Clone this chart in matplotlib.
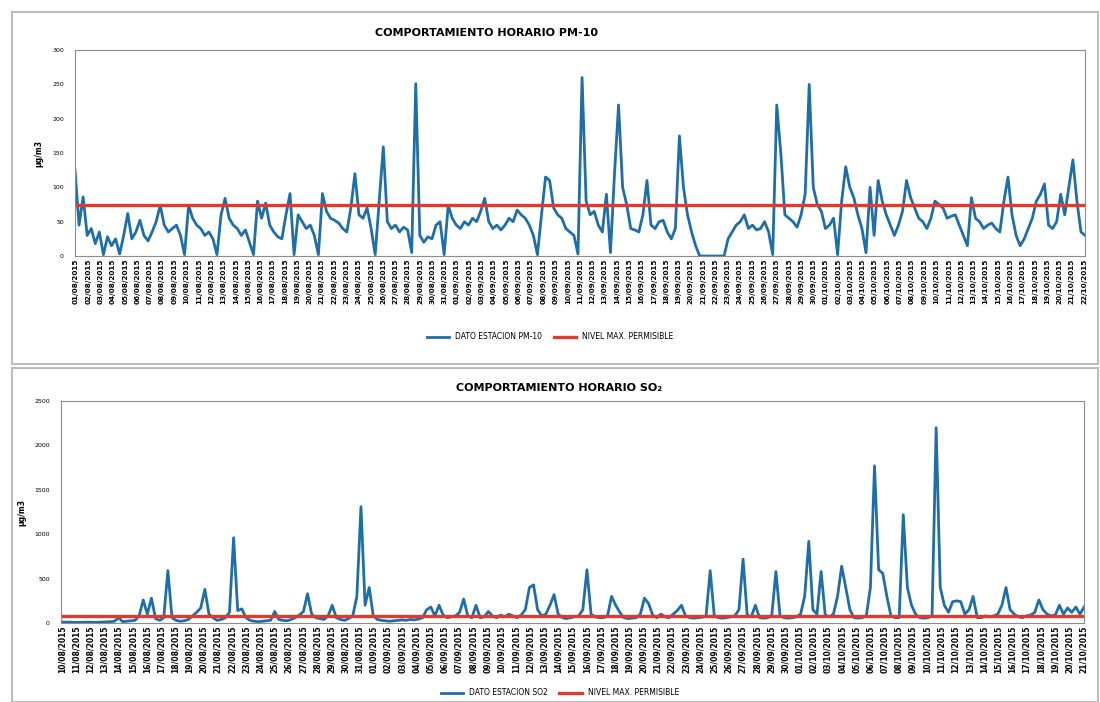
import numpy as np
import pandas as pd
import matplotlib
matplotlib.use("Agg")
import matplotlib.pyplot as plt
from matplotlib.patches import Rectangle

# PM-10 hourly values (ug/m3) left to right
pm10 = [125, 45, 86, 30, 40, 18, 35, 2, 28, 15,
        25, 3, 30, 62, 25, 35, 52, 30, 22, 35,
        50, 74, 45, 35, 40, 45, 30, 2, 74, 55,
        45, 40, 30, 35, 25, 2, 60, 84, 55, 45,
        40, 30, 38, 20, 2, 80, 55, 77, 45, 35,
        28, 25, 60, 91, 2, 60, 50, 40, 45, 30,
        2, 91, 65, 55, 52, 48, 40, 35, 70, 120,
        60, 55, 70, 40, 2, 80, 159, 50, 40, 45,
        35, 42, 38, 5, 251, 30, 20, 28, 25, 45,
        50, 2, 74, 55, 45, 40, 50, 45, 55, 50,
        65, 84, 50, 40, 45, 38, 45, 55, 50, 67,
        60, 55, 45, 30, 2, 60, 115, 110, 70, 60,
        55, 40, 35, 30, 3, 260, 80, 60, 65, 45,
        35, 90, 5, 120, 220, 100, 75, 40, 38, 35,
        60, 110, 45, 40, 50, 52, 35, 25, 40, 175,
        100, 60, 35, 15, 0, 0, 0, 0, 0, 0,
        0, 25, 35, 45, 50, 60, 40, 45, 38, 40,
        50, 35, 2, 220, 150, 60, 55, 50, 42, 60,
        90, 250, 100, 75, 65, 40, 45, 55, 2, 80,
        130, 100, 85, 60, 40, 5, 100, 30, 110, 80,
        60, 45, 30, 45, 65, 110, 85, 70, 55, 50,
        40, 55, 80, 75, 70, 55, 58, 60, 45, 30,
        15, 85, 55, 50, 40, 45, 48, 40, 35, 80,
        115, 60, 30, 15, 25, 40, 55, 80, 90, 105,
        45, 40, 50, 90, 60, 100, 140, 80, 35, 30]

# SO2 hourly values (ug/m3)
so2 = [10, 10, 10, 8, 8, 8, 10, 10, 8, 8,
       10, 12, 15, 20, 60, 15, 20, 25, 30, 80,
       260, 100, 280, 50, 30, 60, 590, 60, 30, 20,
       25, 40, 80, 120, 170, 380, 100, 60, 30, 40,
       60, 120, 960, 140, 160, 60, 30, 20, 15, 20,
       25, 30, 130, 40, 30, 25, 40, 60, 90, 130,
       330, 100, 60, 50, 40, 80, 200, 60, 40, 30,
       50, 80, 300, 1310, 200, 400, 80, 40, 30, 25,
       20, 25, 30, 35, 30, 40, 35, 45, 60, 150,
       180, 80, 200, 90, 60, 70, 80, 120, 270, 80,
       60, 200, 60, 70, 130, 80, 60, 90, 70, 100,
       80, 60, 90, 150, 400, 430, 150, 80, 100, 200,
       320, 100, 60, 50, 60, 70, 80, 150, 600, 100,
       70, 60, 60, 80, 300, 200, 120, 60, 50, 55,
       60, 100, 280, 220, 90, 60, 100, 70, 60, 100,
       140, 200, 80, 60, 55, 60, 65, 80, 590, 80,
       60, 55, 60, 70, 80, 150, 720, 90, 70, 200,
       60, 55, 60, 90, 580, 80, 60, 55, 60, 70,
       100, 300, 920, 150, 100, 580, 90, 70, 100, 300,
       640, 400, 150, 60, 55, 60, 80, 400, 1770, 600,
       560, 300, 80, 60, 60, 1220, 400, 200, 100, 60,
       55, 60, 80, 2200, 400, 200, 120, 240, 250, 240,
       100, 150, 300, 60, 60, 80, 70, 80, 100, 200,
       400, 150, 100, 70, 60, 80, 90, 120, 260, 150,
       100, 80, 90, 200, 100, 170, 120, 180, 100, 180]

pm10_limit = 75
so2_limit = 80

pm10_days = pd.date_range("2015-08-01", periods=83).strftime("%d/%m/%Y").tolist()
so2_days = pd.date_range("2015-08-10", periods=73).strftime("%d/%m/%Y").tolist()

BLUE = "#1f6ea8"
RED = "#e0392e"

fig = plt.figure(figsize=(11, 7.02), dpi=100)

# panel frames
for y0, h in [(0.4815, 0.5015), (0.0, 0.4758)]:
    fig.add_artist(Rectangle((0.011, y0), 0.987, h, transform=fig.transFigure,
                             fill=False, edgecolor="#bdbdbd", lw=1.5))


def draw_panel(rect, values, limit, labels, ymax, ystep, xpad, xfs):
    ax = fig.add_axes(rect)
    n = len(labels)
    x0, x1 = -xpad, n - 1 + xpad
    x = np.linspace(x0, x1, len(values))
    l1, = ax.plot(x, values, color=BLUE, lw=2.0)
    l2, = ax.plot([x0, x1], [limit, limit], color=RED, lw=2.4)
    ax.set_xlim(x0, x1)
    ax.set_ylim(0, ymax)
    ax.set_yticks(np.arange(0, ymax + 1, ystep))
    ax.set_xticks(range(n))
    ax.set_xticklabels(labels, rotation=90, fontsize=xfs, fontweight="bold")
    ax.tick_params(axis="y", labelsize=4.5, length=0, pad=8)
    ax.tick_params(axis="x", length=0, pad=2)
    for s in ax.spines.values():
        s.set_color("#8c8c8c")
        s.set_linewidth(0.8)
    ax.set_ylabel("µg/m3", fontsize=5.5, fontweight="bold", labelpad=6)
    return ax, l1, l2


ax1, a, b = draw_panel([0.0682, 0.6353, 0.9182, 0.2934], pm10, pm10_limit,
                       pm10_days, 300, 50, 0.08, 5.2)
fig.text(0.442, 0.953, "COMPORTAMIENTO HORARIO PM-10", fontsize=8,
         fontweight="bold", ha="center", va="center")
fig.legend([a, b], ["DATO ESTACION PM-10", "NIVEL MAX. PERMISIBLE"],
           loc="center", bbox_to_anchor=(0.5, 0.52), ncol=2, frameon=False,
           fontsize=5.5, handlelength=2.9, columnspacing=1.5)

ax2, c, d = draw_panel([0.0555, 0.1125, 0.930, 0.3162], so2, so2_limit,
                       so2_days, 2500, 500, 0.05, 5.5)
fig.text(0.508, 0.447, "COMPORTAMIENTO HORARIO SO₂", fontsize=8,
         fontweight="bold", ha="center", va="center")
fig.legend([c, d], ["DATO ESTACION SO2", "NIVEL MAX. PERMISIBLE"],
           loc="center", bbox_to_anchor=(0.509, 0.013), ncol=2, frameon=False,
           fontsize=5.5, handlelength=2.9, columnspacing=1.5)

fig.savefig("out.png", dpi=100)
